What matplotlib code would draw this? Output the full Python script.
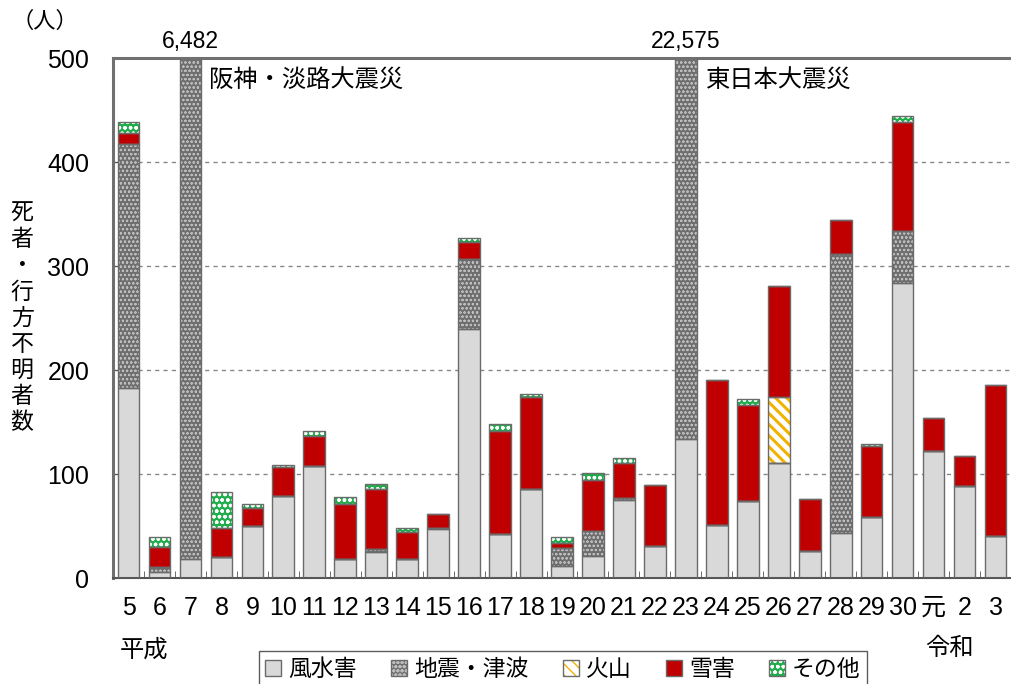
import matplotlib
matplotlib.use("Agg")
import matplotlib.pyplot as plt
import numpy as np
from matplotlib.patches import Patch
from matplotlib.transforms import blended_transform_factory

plt.rcParams['font.family'] = ['Liberation Sans', 'Noto Sans CJK JP']

# 年（平成5年～令和3年）
years = ['5', '6', '7', '8', '9', '10', '11', '12', '13', '14', '15', '16', '17', '18',
         '19', '20', '21', '22', '23', '24', '25', '26', '27', '28', '29', '30',
         '元', '2', '3']

# 災害種別ごとの死者・行方不明者数（人）
wind = [183, 6, 18, 20, 50, 79, 108, 18, 25, 18, 47, 239, 42, 86, 12, 21, 75, 31, 134, 51,
        74, 111, 26, 43, 59, 284, 122, 88, 40]
quake = [234, 5, 6464, 0, 0, 0, 0, 0, 3, 0, 1, 68, 0, 0, 17, 24, 2, 0, 22441, 0,
         0, 0, 0, 269, 0, 50, 0, 0, 0]
volcano = [0, 0, 0, 0, 0, 0, 0, 0, 0, 0, 0, 0, 0, 0, 0, 0, 0, 0, 0, 0,
           0, 63, 0, 0, 0, 0, 0, 0, 0]
snow = [11, 19, 0, 28, 17, 28, 29, 53, 58, 26, 14, 16, 99, 88, 5, 49, 34, 58, 0, 139,
        92, 107, 50, 32, 68, 104, 32, 29, 146]
other = [10, 9, 0, 35, 4, 2, 4, 7, 4, 4, 0, 4, 7, 3, 5, 7, 4, 0, 0, 0,
         6, 0, 0, 0, 2, 6, 0, 0, 0]

series = [
    ('風水害', wind, '#d9d9d9', None, '#d9d9d9', 0.5),
    ('地震・津波', quake, '#6e6e6e', 'oooo', '#bdbdbd', 0.5),
    ('火山', volcano, '#ffffff', '\\\\\\', '#f2b200', 2.2),
    ('雪害', snow, '#c00000', None, '#c00000', 0.5),
    ('その他', other, '#1fae4b', 'ooo', '#ffffff', 1.0),
]
outline = '#6b6b6b'

fig = plt.figure(figsize=(10.11, 6.84), dpi=100)
ax = fig.add_axes([113 / 1011, 106 / 684, 898 / 1011, 520 / 684])

x = np.arange(len(years))
w = 0.7
bottom = np.zeros(len(years))
handles = []
for name, vals, fc, hatch, hc, hlw in series:
    vals = np.array(vals, dtype=float)
    fill = ax.bar(x, vals, w, bottom=bottom, color=fc, edgecolor=hc, hatch=hatch,
                  linewidth=0, zorder=2)
    hp = Patch(facecolor=fc, edgecolor=hc, hatch=hatch, linewidth=0)
    if hatch and hasattr(hp, 'set_hatch_linewidth'):
        for p in list(fill.patches) + [hp]:
            p.set_hatch_linewidth(hlw)
    ax.bar(x, vals, w, bottom=bottom, fill=False, edgecolor=outline, linewidth=1, zorder=3)
    bottom += vals
    handles.append((hp, Patch(fill=False, edgecolor=outline, linewidth=1)))

ax.set_ylim(0, 500)
ax.set_xlim(-0.48, -0.48 + 898 / 31.36)
ax.set_yticks(range(0, 501, 100))
ax.set_xticks(x)
ax.set_xticklabels(years)
ax.set_xticks(np.arange(-0.5, len(years), 1), minor=True)
ax.tick_params(axis='x', which='major', length=0, pad=13, labelsize=18)
ax.tick_params(axis='x', which='minor', direction='in', length=5, color='#555555')
ax.tick_params(axis='y', direction='in', length=5, pad=17, labelsize=18, color='#555555')

ax.yaxis.grid(True, linestyle=(0, (3, 3)), color='#888888', linewidth=1)
ax.set_axisbelow(True)
ax.spines['right'].set_visible(False)
for s in ['top', 'left']:
    ax.spines[s].set_color('#707070')
    ax.spines[s].set_linewidth(2.2)
ax.spines['bottom'].set_color('#555555')
ax.spines['bottom'].set_linewidth(1.5)

# 大震災の年は軸をはみ出すので合計を上に書く
totals = bottom
for i in np.where(totals > 500)[0]:
    ax.annotate(f'{int(totals[i]):,}', xy=(i, 500), xytext=(0, 7), textcoords='offset points',
                ha='center', va='baseline', fontsize=16.5, annotation_clip=False)

ax.text(2.6, 478, '阪神・淡路大震災', fontsize=17.5, va='center', ha='left')
ax.text(18.65, 478, '東日本大震災', fontsize=17.5, va='center', ha='left')

trans = blended_transform_factory(ax.transData, ax.transAxes)
ax.text(0.5, -0.14, '平成', transform=trans, ha='center', va='center', fontsize=17.5)
ax.text(26.5, -0.137, '令和', transform=trans, ha='center', va='center', fontsize=17.5)

fig.text(45 / 1011, 1 - 22 / 684, '（人）', ha='center', va='center', fontsize=16)
fig.text(22 / 1011, 1 - 318 / 684, '\n'.join('死者・行方不明者数'), ha='center', va='center',
         fontsize=16.5, linespacing=1.17)

leg = fig.legend(handles, [s[0] for s in series], loc='upper center',
                 bbox_to_anchor=(563 / 1011, 1 - 651 / 684), ncol=5, fontsize=16.5,
                 handlelength=0.7, handleheight=0.7, handletextpad=0.3, columnspacing=1.5,
                 frameon=True, fancybox=False, borderpad=0.3, borderaxespad=0)
leg.get_frame().set_edgecolor('#333333')
leg.get_frame().set_linewidth(1)

fig.savefig('out.png', dpi=100)
